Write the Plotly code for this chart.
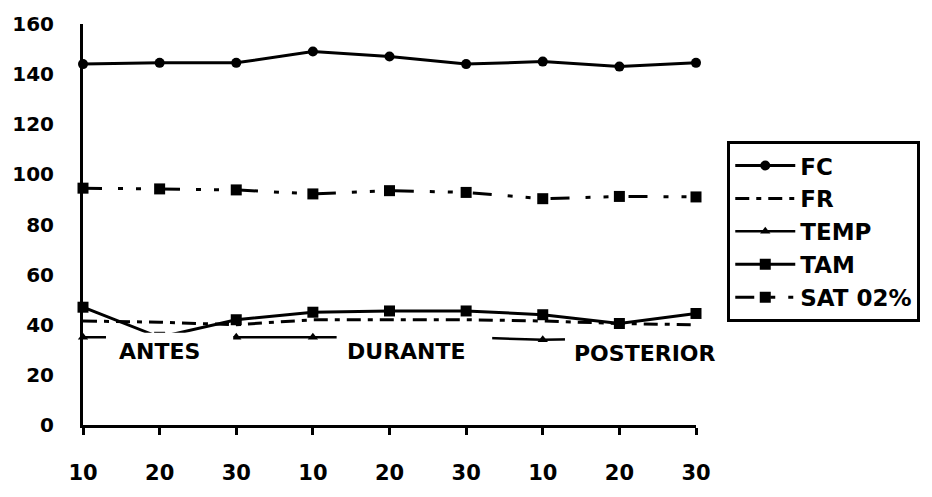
import plotly.graph_objects as go

# ---- data ----
x_idx = [0, 1, 2, 3, 4, 5, 6, 7, 8]
x_labels = ["10", "20", "30", "10", "20", "30", "10", "20", "30"]
fc = [144, 144.5, 144.5, 149, 147, 144, 145, 143, 144.5]
fr = [41.5, 41, 40, 42, 42, 42, 41.5, 40.5, 40]
temp = [35, 35, 35, 35, 35, 35, 34, 34.5, 34.5]
tam = [47, 35, 42, 45, 45.5, 45.5, 44, 40.5, 44.5]
sat = [94.5, 94.2, 93.8, 92.2, 93.5, 92.8, 90.3, 91.2, 91]
y_ticks = [0, 20, 40, 60, 80, 100, 120, 140, 160]
phase_labels = ["ANTES", "DURANTE", "POSTERIOR"]
phase_x = [1.0, 4.22, 7.34]
phase_y = [29.5, 29.5, 28.5]

FONT = "DejaVu Sans"
BLACK = "black"
X_RANGE = [0, 8]

fig = go.Figure()

fig.add_trace(go.Scatter(
    x=x_idx, y=fc, name="FC", mode="lines+markers", legendgroup="a",
    line=dict(color=BLACK, width=3),
    marker=dict(symbol="circle", size=10, color=BLACK),
    cliponaxis=False))
fig.add_trace(go.Scatter(
    x=x_idx, y=fr, name="FR", mode="lines", legendgroup="b",
    line=dict(color=BLACK, width=3, dash="14px,7px,5px,7px"),
    cliponaxis=False))
fig.add_trace(go.Scatter(
    x=x_idx, y=temp, name="TEMP", mode="lines+markers", legendgroup="c",
    line=dict(color=BLACK, width=2.5),
    marker=dict(symbol="triangle-up", size=9, color=BLACK),
    cliponaxis=False))
fig.add_trace(go.Scatter(
    x=x_idx, y=tam, name="TAM", mode="lines+markers", legendgroup="d",
    line=dict(color=BLACK, width=3),
    marker=dict(symbol="square", size=11, color=BLACK),
    cliponaxis=False))
fig.add_trace(go.Scatter(
    x=x_idx, y=sat, name="SAT 02%", mode="lines+markers", legendgroup="e",
    line=dict(color=BLACK, width=3, dash="19px,16px,5px,13px,5px,20px"),
    marker=dict(symbol="square", size=11, color=BLACK),
    cliponaxis=False))

# white label boxes that hide the lines behind the phase labels
# (x given in category-index units, converted to paper so they are not clipped)
mask_boxes = [(0.3, 1.96, 22, 36.8), (3.31, 5.34, 22, 37.3), (6.29, 8.45, 22, 37.3)]
span = X_RANGE[1] - X_RANGE[0]
for x0, x1, y0, y1 in mask_boxes:
    fig.add_shape(type="rect", xref="paper", yref="y",
                  x0=(x0 - X_RANGE[0]) / span, x1=(x1 - X_RANGE[0]) / span,
                  y0=y0, y1=y1,
                  fillcolor="white", line=dict(width=0), layer="above")

for txt, px, py in zip(phase_labels, phase_x, phase_y):
    fig.add_annotation(x=px, y=py, xref="x", yref="y", text=txt, showarrow=False,
                       font=dict(family=FONT, size=22, color=BLACK, weight="bold"),
                       xanchor="center", yanchor="middle")

fig.update_layout(
    width=932, height=497,
    margin=dict(l=77, r=232, t=22, b=54),
    paper_bgcolor="white", plot_bgcolor="white",
    showlegend=True,
    legend=dict(
        x=1.051, y=0.708, xanchor="left", yanchor="top",
        bordercolor=BLACK, borderwidth=3, bgcolor="white",
        font=dict(family=FONT, size=23, color=BLACK, weight="bold"),
        tracegroupgap=0, itemwidth=60,
    ),
    font=dict(family=FONT, color=BLACK),
)

fig.update_xaxes(
    range=X_RANGE, tickmode="array", tickvals=x_idx, ticktext=x_labels,
    showline=True, linecolor=BLACK, linewidth=3,
    ticks="outside", ticklen=7, tickwidth=3, tickcolor=BLACK,
    showgrid=False, zeroline=False, ticklabelstandoff=20,
    tickfont=dict(family=FONT, size=21, color=BLACK, weight="bold"),
)
fig.update_yaxes(
    range=[0, 160], tickmode="array", tickvals=y_ticks,
    showline=True, linecolor=BLACK, linewidth=3,
    ticks="", showgrid=False, zeroline=False, ticklabelstandoff=22,
    tickfont=dict(family=FONT, size=20, color=BLACK, weight="bold"),
)

fig.write_html("out.html")
